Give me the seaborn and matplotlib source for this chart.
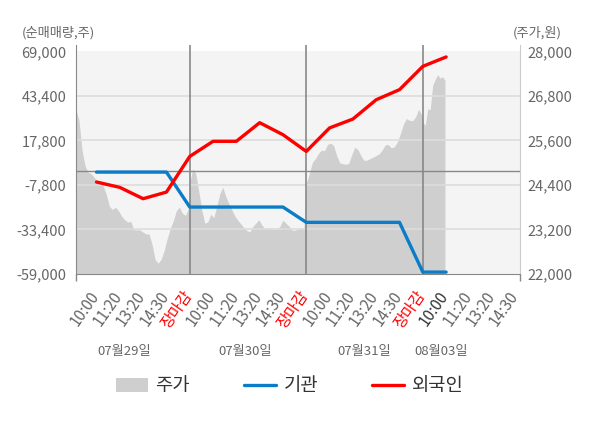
import numpy as np
import pandas as pd
import matplotlib
matplotlib.use("Agg")
import matplotlib.pyplot as plt
import matplotlib.transforms as mtransforms
from matplotlib.patches import Patch
from matplotlib.lines import Line2D
import seaborn as sns

sns.set_style("white")
plt.rcParams['font.family'] = ['Noto Sans CJK KR', 'DejaVu Sans']
plt.rcParams['axes.unicode_minus'] = False

# x축 라벨
tick_labels = ['10:00', '11:20', '13:20', '14:30', '장마감'] * 3 + ['10:00', '11:20', '13:20', '14:30']
day_labels = ['07월29일', '07월30일', '07월31일', '08월03일']

# 순매매량 (주)
institution = [-400, -400, -400, -400, -20500, -20500, -20500, -20500, -20500,
               -29300, -29300, -29300, -29300, -29300, -57900, -57900]
foreign = [-6100, -9200, -15700, -11900, 8600, 17300, 17300, 28000, 21100,
           11500, 25000, 30100, 41200, 47000, 60400, 65800]

# 주가 (원), 일자별
price_d1 = [26430, 26130, 25330, 24910, 24740, 24700, 24600, 24510, 24460, 24360,
            24130, 23820, 23740, 23800, 23700, 23560, 23460, 23400, 23420, 23190,
            23190, 23190, 23130, 23080, 23080, 22800, 22390, 22290, 22400, 22640,
            22960, 23230, 23440, 23710, 23800, 23630, 23580, 23770]
price_d2 = [24450, 24830, 24710, 24230, 23730, 23370, 23400, 23610, 23520, 23830,
            24160, 24340, 24090, 23900, 23730, 23560, 23450, 23350, 23250, 23170,
            23140, 23280, 23370, 23460, 23320, 23220, 23250, 23250, 23210, 23210,
            23280, 23450, 23370, 23290, 23180, 23180, 23210, 23240, 23200]
price_d3 = [24450, 24700, 25010, 25110, 25250, 25340, 25320, 25490, 25530, 25460,
            25190, 25000, 24970, 24960, 24980, 25220, 25420, 25350, 25190, 25060,
            25070, 25110, 25150, 25190, 25240, 25340, 25480, 25490, 25400, 25430,
            25560, 25780, 26040, 26190, 26140, 26130, 26230, 26440, 26290]
price_d4 = [26100, 26000, 26450, 26430, 27080, 27240, 27370, 27280, 27320, 27220]

left_ticks = np.arange(-59000, 69001, 25600)
right_ticks = np.arange(22000, 28001, 1200)

xmin, xmax = 0.12, 19.17
pos = np.arange(1, len(tick_labels) + 1)

# 주가 x 위치 (하루 = 5칸)
px = np.concatenate([
    np.linspace(xmin, 4.95, len(price_d1)),
    np.linspace(5.0, 9.9, len(price_d2)),
    np.linspace(10.0, 14.95, len(price_d3)),
    np.linspace(15.0, 15.95, len(price_d4)),
])
prices = np.array(price_d1 + price_d2 + price_d3 + price_d4)

n = len(foreign)
df = pd.DataFrame({
    'pos': list(pos[:n]) * 2,
    'value': institution + foreign,
    'series': ['기관'] * n + ['외국인'] * n,
})

fig = plt.figure(figsize=(6, 4.28), dpi=100)
ax = fig.add_axes([76 / 600, 154 / 428, 444 / 600, 229.3 / 428])
ax2 = ax.twinx()
ax.set_zorder(ax2.get_zorder() + 1)
ax.patch.set_visible(False)

# 주가 영역
ax2.axhspan(22000, 28000, color='#f4f4f4', lw=0, zorder=0)
ax2.fill_between(px, prices, 22000, color='#cfcfcf', lw=0, zorder=1)
ax2.set_ylim(22000, 28180)
ax2.set_yticks(right_ticks)
ax2.set_yticklabels([f'{v:,}' for v in right_ticks])
ax2.tick_params(axis='y', length=0, pad=5, labelsize=10.5, labelcolor='#666666')
for s in ax2.spines.values():
    s.set_visible(False)

# 순매매량 라인
for v in left_ticks[1:-1]:
    ax.axhline(v, color='#dddddd', lw=1.2, zorder=1)
ax.axhline(0, color='#888888', lw=1.0, zorder=2)
for v in [5, 10, 15]:
    ax.axvline(v, color='#888888', lw=1.2, zorder=2)

sns.lineplot(data=df, x='pos', y='value', hue='series', hue_order=['기관', '외국인'],
             palette={'기관': '#0a7cc8', '외국인': '#ff0000'}, linewidth=2.4,
             legend=False, ax=ax, zorder=3)

ax.set_xlim(xmin, xmax)
ax.set_ylim(-59000, 72850)
ax.set_yticks(left_ticks)
ax.set_yticklabels([f'{v:,}' for v in left_ticks])
ax.tick_params(axis='y', length=0, pad=7, labelsize=10.5, labelcolor='#666666')
ax.set_xlabel('')
ax.set_ylabel('')

ax.set_xticks(pos)
ax.set_xticklabels(tick_labels, rotation=55, ha='right')
ax.tick_params(axis='x', which='major', length=0, pad=10, labelsize=11)
ax.set_xticks([xmin, 5, 10, 15, xmax], minor=True)
ax.tick_params(axis='x', which='minor', bottom=True, length=5, width=1, color='#888888')
shift = mtransforms.ScaledTranslation(6 / 100, 0, fig.dpi_scale_trans)
for i, lbl in enumerate(ax.get_xticklabels()):
    lbl.set_transform(lbl.get_transform() + shift)
    if lbl.get_text() == '장마감':
        lbl.set_color('#ff0000')
    elif i == 15:
        lbl.set_color('#333333')
    else:
        lbl.set_color('#666666')

ax.spines['top'].set_visible(False)
ax.spines['left'].set_color('#888888')
ax.spines['bottom'].set_color('#888888')
ax.spines['right'].set_color('#cccccc')

# 날짜 라벨
trans = mtransforms.blended_transform_factory(ax.transData, fig.transFigure)
for xc, lab in zip([2.2, 7.37, 12.5, 15.8], day_labels):
    fig.text(xc, 1 - 352 / 428, lab, transform=trans, ha='center', va='center',
             fontsize=9.5, color='#666666')

fig.text(22 / 600, 1 - 33 / 428, '(순매매량,주)', ha='left', va='center', fontsize=9.5, color='#666666')
fig.text(562 / 600, 1 - 33 / 428, '(주가,원)', ha='right', va='center', fontsize=9.5, color='#666666')

handles = [Patch(facecolor='#cfcfcf', edgecolor='none'),
           Line2D([], [], color='#0a7cc8', lw=2.4),
           Line2D([], [], color='#ff0000', lw=2.4)]
fig.legend(handles, ['주가', '기관', '외국인'], loc='center', bbox_to_anchor=(0.483, 1 - 386 / 428),
           ncol=3, frameon=False, fontsize=13.5, handlelength=1.7, handleheight=0.8,
           handletextpad=0.4, columnspacing=2.9, labelcolor='#333333')

fig.savefig('out.png', dpi=100, facecolor='white')
